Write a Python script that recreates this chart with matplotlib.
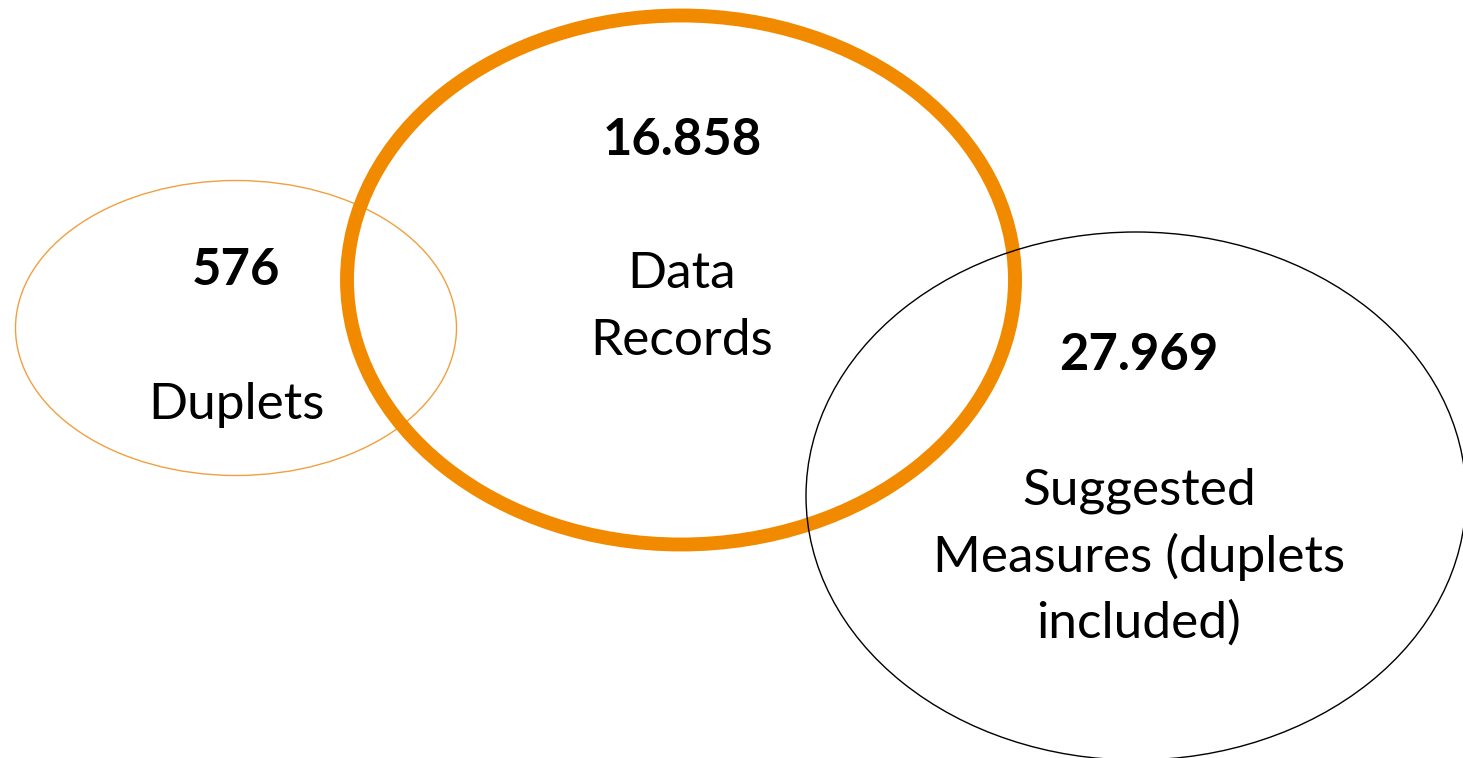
import matplotlib
matplotlib.use('Agg')
import matplotlib.pyplot as plt
from matplotlib.patches import Ellipse

# ── Data ──────────────────────────────────────────────────────────────────────
counts = ['576', '16.858', '27.969']
labels = [['Duplets'],
          ['Data', 'Records'],
          ['Suggested', 'Measures (duplets', 'included)']]

# ── Layout (pixel coordinates, y grows downward) ─────────────────────────────
W, H = 1463, 758
ORANGE = '#F28A00'

shapes = [  # centre x, centre y, width, height, colour, linewidth
    (236, 328, 441, 295, '#F0A040', 1.0),
    (681, 280, 668, 529, ORANGE, 10.0),
    (1136, 496, 660, 528, 'black', 1.0),
]
count_y = [285, 155, 370]
label_x = [236, 682, 1139]
label_base = [[419], [288, 355], [505, 572, 638]]

plt.rcParams['font.family'] = ['Lato', 'DejaVu Sans']

fig = plt.figure(figsize=(W / 100, H / 100), dpi=100)
ax = fig.add_axes([0, 0, 1, 1])
ax.set_xlim(0, W)
ax.set_ylim(H, 0)
ax.axis('off')

for cx, cy, w, h, col, lw in shapes:
    ax.add_patch(Ellipse((cx, cy), w, h, fill=False, edgecolor=col, linewidth=lw))

for i in range(3):
    ax.text(label_x[i], count_y[i], counts[i], ha='center', va='baseline',
            fontsize=36.5, fontweight='bold', color='black')
    for line, yb in zip(labels[i], label_base[i]):
        ax.text(label_x[i], yb, line, ha='center', va='baseline',
                fontsize=37, color='black')

fig.savefig('out.png', dpi=100, facecolor='white')
plt.close()
